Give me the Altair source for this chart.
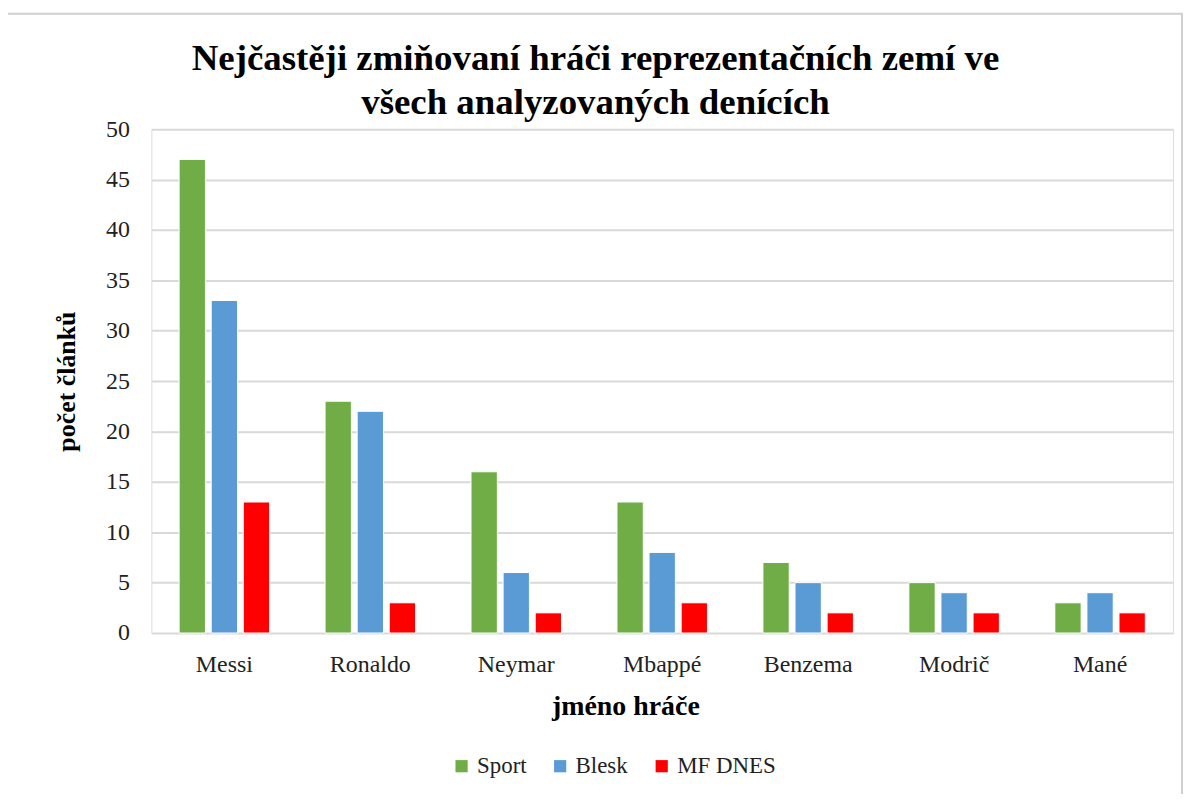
import altair as alt
import pandas as pd

players = ["Messi", "Ronaldo", "Neymar", "Mbappé", "Benzema", "Modrič", "Mané"]
sport = [47, 23, 16, 13, 7, 5, 3]
blesk = [33, 22, 6, 8, 5, 4, 4]
mfdnes = [13, 3, 2, 3, 2, 2, 2]
series = ["Sport", "Blesk", "MF DNES"]
colors = ["#70ad47", "#5b9bd5", "#ff0000"]

rows = []
for i, p in enumerate(players):
    for s, vals in zip(series, [sport, blesk, mfdnes]):
        rows.append({"hráč": p, "deník": s, "počet": vals[i]})
df = pd.DataFrame(rows)

FONT = "Liberation Serif"
W, H = 1026, 506

bars = alt.Chart(df).mark_bar(stroke="white", strokeWidth=1).encode(
    x=alt.X("hráč:N", sort=players,
            scale=alt.Scale(paddingInner=0.38, paddingOuter=0.19),
            axis=alt.Axis(title="jméno hráče", labelAngle=0, ticks=False, domain=False,
                          labelPadding=20, titlePadding=16, titleX=476, titleAlign="center",
                          labelFont=FONT, labelFontSize=24, labelColor="#222222",
                          titleFont=FONT, titleFontSize=28, titleFontWeight="bold",
                          titleColor="#000000")),
    xOffset=alt.XOffset("deník:N", sort=series, scale=alt.Scale(paddingInner=0.18)),
    y=alt.Y("počet:Q", scale=alt.Scale(domain=[0, 50]),
            axis=alt.Axis(title="počet článků", values=list(range(0, 51, 5)),
                          ticks=False, domain=False, labelPadding=22, titlePadding=26,
                          labelFont=FONT, labelFontSize=24, labelColor="#222222",
                          titleFont=FONT, titleFontSize=26, titleFontWeight="bold",
                          titleColor="#000000", gridColor="#d9d9d9", gridWidth=2)),
    color=alt.Color("deník:N", sort=series,
                    scale=alt.Scale(domain=series, range=colors),
                    legend=alt.Legend(title=None, orient="none", direction="horizontal",
                                      legendX=300, legendY=628, symbolType="square",
                                      symbolSize=150, symbolStrokeWidth=0,
                                      labelFont=FONT, labelFontSize=23, labelColor="#222222",
                                      columnPadding=22, labelOffset=4)),
)

frame = alt.Chart(pd.DataFrame({"a": [0]})).mark_rect(
    fill=None, stroke="#d0d0d0", strokeWidth=2, clip=False
).encode(x=alt.value(-146), x2=alt.value(1035), y=alt.value(-116), y2=alt.value(690))

chart = alt.layer(frame, bars).properties(
    width=W, height=H,
    title=alt.TitleParams(
        text=["Nejčastěji zmiňovaní  hráči reprezentačních  zemí ve",
              "všech analyzovaných  denících"],
        font=FONT, fontSize=37, fontWeight="bold", color="#000000",
        anchor="middle", dx=-67, offset=0, dy=110, lineHeight=44),
    autosize=alt.AutoSizeParams(type="none"),
    padding={"left": 144, "top": 120, "right": 10, "bottom": 160},
).configure_view(stroke=None).configure(background="white")

chart.save("out.html", embed_options={"renderer": "svg", "actions": False})
